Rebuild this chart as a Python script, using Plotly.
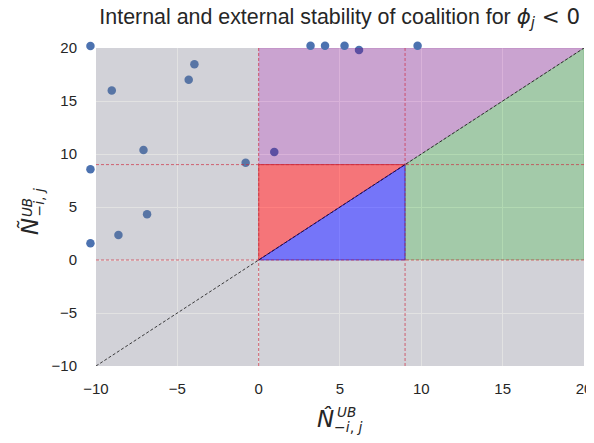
import plotly.graph_objects as go

# ---- data ----
point_x = [-10.34, -9.03, -3.95, -4.30, -7.08, -10.34, -0.80, 0.96,
           3.19, 4.08, 5.28, 6.17, 9.77, -6.86, -8.62, -10.34]
point_y = [20.19, 15.99, 18.46, 17.01, 10.38, 8.56, 9.18, 10.19,
           20.22, 20.22, 20.22, 19.81, 20.22, 4.31, 2.36, 1.58]

axis_min = -10
axis_max = 20
origin = 0
threshold_hat = 9     # N-hat threshold (x)
threshold_tilde = 9   # N-tilde threshold (y)
tick_vals = [-10, -5, 0, 5, 10, 15, 20]

# ---- styling / layout geometry (pixels inside the figure) ----
TEXT = "#262626"
SANS = "Liberation Sans"
MATH = "DejaVu Sans"
BG = "#EAEAF2"

FIG_W, FIG_H = 586, 427
PL, PR, PT, PB = 87.5, 576, 40, 358       # plot area edges
ML, MT = 77.5, 30                          # outer (paper) edges leaving room for outside dots
PAPER_W = PR - ML
PAPER_H = PB - MT
sx = (PR - PL) / (axis_max - axis_min)
sy = (PB - PT) / (axis_max - axis_min)

def fx(px):
    return (px - ML) / PAPER_W

def fy(py):
    return (PB - py) / PAPER_H

inside = [(axis_min <= x <= axis_max) and (axis_min <= y <= axis_max)
          for x, y in zip(point_x, point_y)]
in_x = [x for x, k in zip(point_x, inside) if k]
in_y = [y for y, k in zip(point_y, inside) if k]
out_x = [x for x, k in zip(point_x, inside) if not k]
out_y = [y for y, k in zip(point_y, inside) if not k]

fig = go.Figure()
marker = dict(color="#4C72B0", size=8.5, line=dict(width=0))

# points inside the axes (fills are drawn over them)
fig.add_trace(go.Scatter(x=in_x, y=in_y, mode="markers", marker=marker,
                         cliponaxis=False, showlegend=False, hoverinfo="skip"))

def region(xs, ys, fill, edge):
    fig.add_trace(go.Scatter(
        x=xs, y=ys, mode="lines", fill="toself", fillcolor=fill,
        line=dict(color=edge, width=1), showlegend=False, hoverinfo="skip"))

# gray: outside the first quadrant
region([axis_min, axis_max, axis_max, origin, origin, axis_min, axis_min],
       [axis_min, axis_min, origin, origin, axis_max, axis_max, axis_min],
       "rgba(128,128,128,0.23)", "rgba(0,0,0,0)")
# purple
region([origin, origin, axis_max, threshold_hat, origin],
       [threshold_tilde, axis_max, axis_max, threshold_tilde, threshold_tilde],
       "rgba(128,0,128,0.3)", "rgba(128,0,128,0.15)")
# green
region([threshold_hat, threshold_hat, axis_max, axis_max, threshold_hat],
       [origin, threshold_tilde, axis_max, origin, origin],
       "rgba(0,128,0,0.3)", "rgba(0,128,0,0.15)")
# red
region([origin, origin, threshold_hat, origin],
       [origin, threshold_tilde, threshold_tilde, origin],
       "rgba(255,0,0,0.5)", "rgba(200,0,0,0.55)")
# blue
region([origin, threshold_hat, threshold_hat, origin],
       [origin, threshold_tilde, origin, origin],
       "rgba(0,0,255,0.5)", "rgba(0,0,200,0.55)")

# red dashed reference lines
ref_style = dict(color="rgba(205,40,60,0.75)", width=0.9, dash="3px,2px")
for xv in [origin, threshold_hat]:
    fig.add_trace(go.Scatter(x=[xv, xv], y=[axis_min, axis_max], mode="lines",
                             line=ref_style, showlegend=False, hoverinfo="skip"))
for yv in [origin, threshold_tilde]:
    fig.add_trace(go.Scatter(x=[axis_min, axis_max], y=[yv, yv], mode="lines",
                             line=ref_style, showlegend=False, hoverinfo="skip"))
# diagonal
fig.add_trace(go.Scatter(x=[axis_min, axis_max], y=[axis_min, axis_max], mode="lines",
                         line=dict(color="rgba(20,20,20,0.8)", width=1, dash="3px,2px"),
                         showlegend=False, hoverinfo="skip"))

# points outside the axes, on an invisible overlay subplot with the same scale
fig.add_trace(go.Scatter(x=out_x, y=out_y, mode="markers", marker=marker,
                         xaxis="x2", yaxis="y2", cliponaxis=False,
                         showlegend=False, hoverinfo="skip"))

# plot background (below gridlines)
fig.add_shape(type="rect", xref="x", yref="y", x0=axis_min, x1=axis_max,
              y0=axis_min, y1=axis_max, fillcolor=BG, line=dict(width=0),
              layer="below")

axis_common = dict(
    range=[axis_min, axis_max], tickvals=tick_vals,
    ticktext=[str(v).replace("-", "\u2212") for v in tick_vals],
    showgrid=True, gridcolor="white", gridwidth=1.2,
    zeroline=False, showline=False, ticks="", automargin=False,
    ticklabeloverflow="allow",
    tickfont=dict(family=SANS, size=15, color=TEXT),
)
hidden = dict(visible=False, showgrid=False, zeroline=False, automargin=False)

fig.update_layout(
    width=FIG_W, height=FIG_H,
    margin=dict(l=ML, r=FIG_W - PR, t=MT, b=FIG_H - PB, autoexpand=False),
    paper_bgcolor="white", plot_bgcolor="rgba(0,0,0,0)",
    xaxis=dict(**axis_common, domain=[fx(PL), 1], ticklabelstandoff=12),
    yaxis=dict(**axis_common, domain=[0, fy(PT)], ticklabelstandoff=18),
    xaxis2=dict(**hidden, domain=[0, 1], anchor="y2",
                range=[axis_min - (PL - ML) / sx, axis_max]),
    yaxis2=dict(**hidden, domain=[0, 1], anchor="x2",
                range=[axis_min, axis_max + (PT - MT) / sy]),
    title=dict(
        text=("Internal and external stability of coalition for "
              f'<span style="font-family:{MATH}"><i>\u03d5</i><sub><i>j</i></sub> &lt; 0</span>'),
        x=(PL + PR) / 2 / FIG_W, xref="container", xanchor="center",
        y=1 - 8.5 / FIG_H, yref="container", yanchor="middle",
        font=dict(family=SANS, size=21.4, color=TEXT)),
)

def label(text, size, px, py, angle=0):
    fig.add_annotation(text=text, xref="paper", yref="paper", x=fx(px), y=fy(py),
                       xanchor="center", yanchor="middle", showarrow=False,
                       textangle=angle, borderpad=0,
                       font=dict(family=MATH, size=size, color=TEXT))

# x-axis label: N-hat ^UB _{-i,j}
label("<i>N\u0302</i>", 23, 317, 411)
label("<i>UB</i>", 13.5, 338, 404)
label("\u2212<i>i</i>, <i>j</i>", 14, 340.5, 419)
# y-axis label: N-tilde ^UB _{-i,j}
label("<i>\u00d1</i>", 23, 21, 218.5, -90)
label("<i>UB</i>", 13.5, 18, 199.5, -90)
label("\u2212<i>i</i>, <i>j</i>", 14, 30, 194, -90)

fig.write_html("out.html")
